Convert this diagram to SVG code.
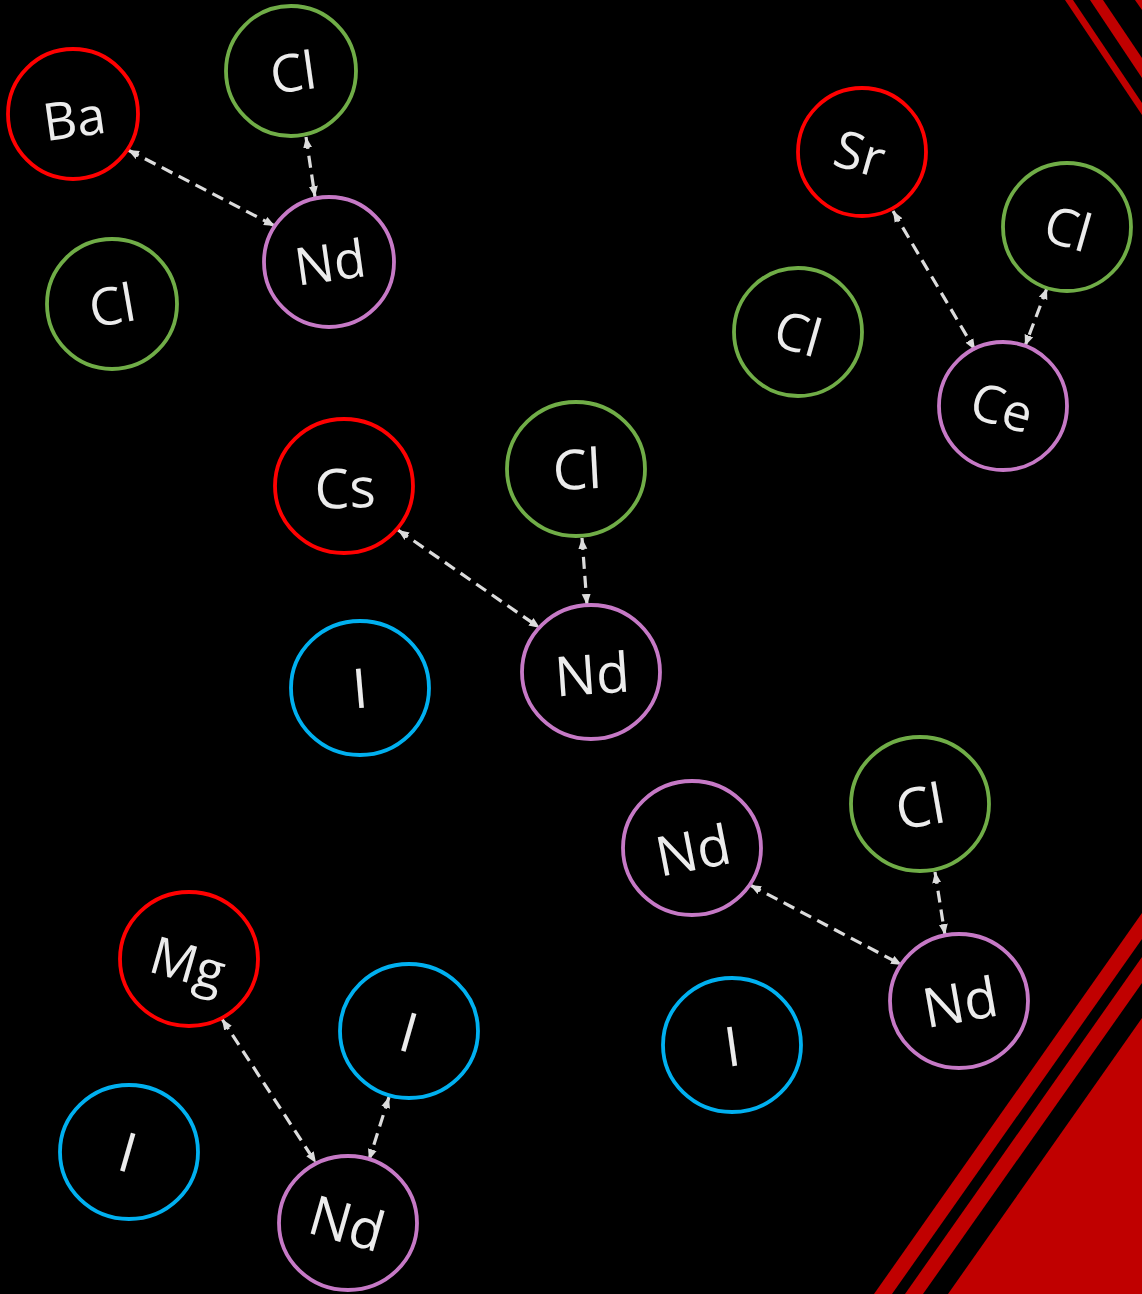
<svg xmlns="http://www.w3.org/2000/svg" width="1142" height="1294" viewBox="0 0 1142 1294">
  <style>
    .red{fill:none;stroke:#ff0000;stroke-width:3.8}
    .green{fill:none;stroke:#70ad47;stroke-width:3.8}
    .purple{fill:none;stroke:#c679c6;stroke-width:3.8}
    .blue{fill:none;stroke:#00b0f0;stroke-width:3.8}
    .lbl{font-family:"Open Sans","Noto Sans","Liberation Sans",sans-serif;font-size:52px;fill:#ececec;text-anchor:middle}
    .big{font-size:55px}
    .link{stroke:#dcdcdc;stroke-width:3.2;stroke-dasharray:12 7;fill:none;marker-start:url(#ah);marker-end:url(#ah)}
    .deco{fill:#c00000}
  </style>
  <defs>
    <marker id="ah" markerUnits="userSpaceOnUse" markerWidth="12" markerHeight="10" viewBox="0 0 12 10" refX="11" refY="5" orient="auto-start-reverse">
      <path d="M0,0.5 L11,5 L0,9.5 z" fill="#dcdcdc"/>
    </marker>
  </defs>
  <rect width="1142" height="1294" fill="#000"/>

  <g id="decoration">
    <polygon class="deco" points="1065,0 1073,0 1142,103 1142,115"/>
    <polygon class="deco" points="1090,0 1103,0 1142,58 1142,78"/>
    <polygon class="deco" points="1135,0 1142,0 1142,10"/>
    <polygon class="deco" points="874,1294 892,1294 1142,939 1142,913"/>
    <polygon class="deco" points="905,1294 923,1294 1142,983 1142,957"/>
    <polygon class="deco" points="948,1294 1142,1018 1142,1294"/>
  </g>

  <g id="connectors">
    <line class="link" x1="128" y1="150" x2="275" y2="226"/>
    <line class="link" x1="306" y1="137" x2="315" y2="197"/>
    <line class="link" x1="893" y1="211" x2="975" y2="350"/>
    <line class="link" x1="1047" y1="288" x2="1025" y2="346"/>
    <line class="link" x1="398" y1="530" x2="540" y2="628"/>
    <line class="link" x1="582" y1="538" x2="587" y2="605"/>
    <line class="link" x1="750" y1="885" x2="902" y2="965"/>
    <line class="link" x1="935" y1="872" x2="945" y2="935"/>
    <line class="link" x1="222" y1="1019" x2="316" y2="1163"/>
    <line class="link" x1="389" y1="1097" x2="369" y2="1160"/>
  </g>

  <!-- group 1 -->
  <g id="ba" transform="translate(73,114)">
    <circle class="red" r="65"/>
    <text class="lbl" transform="translate(1,4) rotate(-8)" y="19">Ba</text>
  </g>
  <g id="cl1a" transform="translate(291,71)">
    <circle class="green" r="65"/>
    <text class="lbl" transform="translate(2,1) rotate(-8)" y="19">Cl</text>
  </g>
  <g id="nd1" transform="translate(329,262)">
    <circle class="purple" r="65"/>
    <text class="lbl" transform="translate(1,0) rotate(-8)" y="19">Nd</text>
  </g>
  <g id="cl1b" transform="translate(112,304)">
    <circle class="green" r="65"/>
    <text class="lbl" transform="translate(0,1) rotate(-10)" y="19">Cl</text>
  </g>

  <!-- group 2 -->
  <g id="sr" transform="translate(862,152)">
    <circle class="red" r="64"/>
    <text class="lbl" transform="translate(-2,1) rotate(16)" y="19">Sr</text>
  </g>
  <g id="cl2a" transform="translate(1067,227)">
    <circle class="green" r="64"/>
    <text class="lbl" transform="translate(1,1) rotate(16)" y="19">Cl</text>
  </g>
  <g id="cl2b" transform="translate(798,332)">
    <circle class="green" r="64"/>
    <text class="lbl" transform="translate(0,1) rotate(16)" y="19">Cl</text>
  </g>
  <g id="ce" transform="translate(1003,406)">
    <circle class="purple" r="64"/>
    <text class="lbl" transform="translate(-1,1) rotate(16)" y="19">Ce</text>
  </g>

  <!-- group 3 -->
  <g id="cs" transform="translate(344,486)">
    <ellipse class="red" rx="69" ry="67"/>
    <text class="lbl big" transform="translate(1,2) rotate(-2)" y="20">Cs</text>
  </g>
  <g id="cl3" transform="translate(576,469)">
    <ellipse class="green" rx="69" ry="67"/>
    <text class="lbl big" transform="translate(1,0) rotate(-3)" y="20">Cl</text>
  </g>
  <g id="i3" transform="translate(360,688)">
    <ellipse class="blue" rx="69" ry="67"/>
    <text class="lbl big" transform="rotate(-5)" y="20">I</text>
  </g>
  <g id="nd3" transform="translate(591,672)">
    <ellipse class="purple" rx="69" ry="67"/>
    <text class="lbl big" transform="translate(1,2) rotate(-4)" y="20">Nd</text>
  </g>

  <!-- group 4 -->
  <g id="nd4a" transform="translate(692,848)">
    <ellipse class="purple" rx="69" ry="67"/>
    <text class="lbl big" transform="translate(1,2) rotate(-11)" y="20">Nd</text>
  </g>
  <g id="cl4" transform="translate(920,804)">
    <ellipse class="green" rx="69" ry="67"/>
    <text class="lbl big" transform="translate(0,2) rotate(-10)" y="20">Cl</text>
  </g>
  <g id="i4" transform="translate(732,1045)">
    <ellipse class="blue" rx="69" ry="67"/>
    <text class="lbl big" transform="translate(0,1) rotate(-8)" y="20">I</text>
  </g>
  <g id="nd4b" transform="translate(959,1001)">
    <ellipse class="purple" rx="69" ry="67"/>
    <text class="lbl big" transform="translate(1,1) rotate(-10)" y="20">Nd</text>
  </g>

  <!-- group 5 -->
  <g id="mg" transform="translate(189,959)">
    <ellipse class="red" rx="69" ry="67"/>
    <text class="lbl" transform="translate(-1,4) rotate(16)" y="19">Mg</text>
  </g>
  <g id="i5a" transform="translate(409,1031)">
    <ellipse class="blue" rx="69" ry="67"/>
    <text class="lbl big" transform="translate(0,1) rotate(16)" y="20">I</text>
  </g>
  <g id="i5b" transform="translate(129,1152)">
    <ellipse class="blue" rx="69" ry="67"/>
    <text class="lbl big" transform="translate(-1,0) rotate(16)" y="20">I</text>
  </g>
  <g id="nd5" transform="translate(348,1223)">
    <ellipse class="purple" rx="69" ry="67"/>
    <text class="lbl big" transform="translate(-1,0) rotate(16)" y="20">Nd</text>
  </g>
</svg>
